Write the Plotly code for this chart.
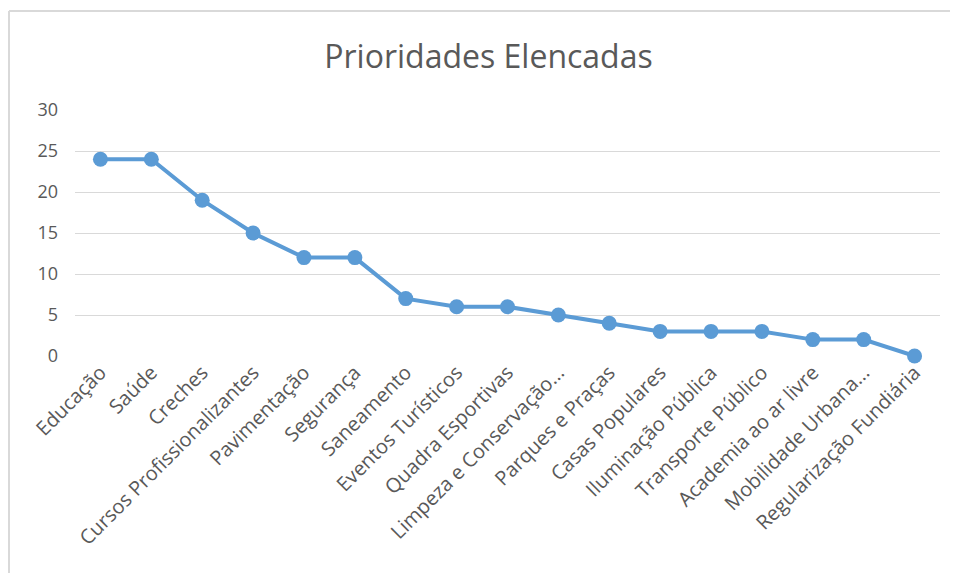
import plotly.graph_objects as go

categories = ["Educação", "Saúde", "Creches", "Cursos Profissionalizantes", "Pavimentação",
              "Segurança", "Saneamento", "Eventos Turísticos", "Quadra Esportivas",
              "Limpeza e Conservação...", "Parques e Praças", "Casas Populares",
              "Iluminação Pública", "Transporte Público", "Academia ao ar livre",
              "Mobilidade Urbana...", "Regularização Fundiária"]
values = [24, 24, 19, 15, 12, 12, 7, 6, 6, 5, 4, 3, 3, 3, 2, 2, 0]
y_ticks = [0, 5, 10, 15, 20, 25, 30]

W, H = 942, 565
L, T, PW, PH = 67, 102, 865, 246

fig = go.Figure()
fig.add_trace(go.Scatter(
    x=categories, y=values, mode="lines+markers",
    line=dict(color="#5B9BD5", width=4),
    marker=dict(color="#5B9BD5", size=15),
    cliponaxis=False,
))

border = dict(color="#d9d9d9", width=2)
fig.update_layout(
    width=W, height=H,
    margin=dict(l=L, r=W - L - PW, t=T, b=H - T - PH, autoexpand=False),
    paper_bgcolor="white", plot_bgcolor="white",
    showlegend=False,
    title=dict(text="Prioridades Elencadas", x=480.5 / W, xanchor="center",
               y=1 - 49 / H, yanchor="middle",
               font=dict(family="Open Sans", size=32, color="#595959")),
    font=dict(family="Open Sans", size=14, color="#595959"),
    xaxis=dict(type="category", range=[-0.5, 16.5], tickangle=-45, automargin=False,
               showgrid=False, zeroline=False, showline=False, ticks="",
               tickfont=dict(family="Open Sans", size=20, color="#595959")),
    yaxis=dict(range=[0, 30], tickvals=y_ticks, showgrid=True, gridcolor="#d9d9d9",
               gridwidth=1, zeroline=False, showline=False, ticks="", automargin=False,
               ticklabelstandoff=16,
               tickfont=dict(family="Open Sans", size=18, color="#595959")),
    shapes=[
        dict(type="line", xref="paper", yref="paper",
             x0=(1 - L) / PW, x1=(W - L) / PW,
             y0=1 + (T - 3) / PH, y1=1 + (T - 3) / PH, line=border, layer="below"),
        dict(type="line", xref="paper", yref="paper",
             x0=(1 - L) / PW, x1=(1 - L) / PW,
             y0=-(H - T - PH) / PH, y1=1 + (T - 3) / PH, line=border, layer="below"),
    ],
)

fig.write_html("out.html", config={"displayModeBar": False},
               post_script="document.documentElement.style.overflow='hidden';"
                           "document.body.style.overflow='hidden';")
